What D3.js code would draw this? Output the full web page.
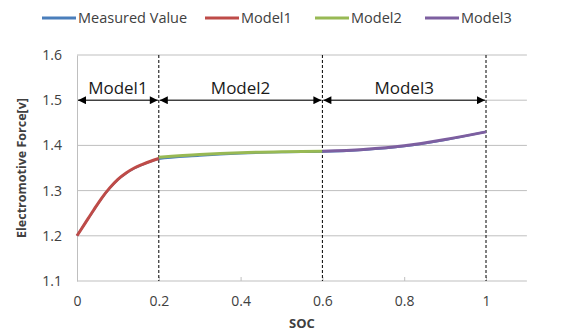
<!DOCTYPE html>
<meta charset="utf-8">
<style>
	body { margin: 0; background: #fff; }
	text { font-family: "Open Sans", Lato, sans-serif; fill: #404040; }
	.grid line { stroke: #bfbfbf; }
</style>

<div class="chart"></div>

<script src="https://d3js.org/d3.v7.min.js"></script>

<script>
	// SOC values and electromotive force readings
	var measuredSoc = [0, 0.02, 0.04, 0.06, 0.08, 0.1, 0.12, 0.14, 0.16, 0.18, 0.2, 0.3, 0.4, 0.5, 0.6, 0.7, 0.8, 0.9, 1.0];
	var measuredEmf = [1.2, 1.228, 1.255, 1.282, 1.305, 1.324, 1.338, 1.349, 1.357, 1.364, 1.370, 1.377, 1.382, 1.385, 1.386, 1.390, 1.398, 1.412, 1.430];

	var model1Soc = [0, 0.02, 0.04, 0.06, 0.08, 0.1, 0.12, 0.14, 0.16, 0.18, 0.2];
	var model1Emf = [1.2, 1.228, 1.256, 1.283, 1.306, 1.325, 1.339, 1.350, 1.358, 1.365, 1.371];

	var model2Soc = [0.2, 0.3, 0.4, 0.5, 0.6];
	var model2Emf = [1.374, 1.380, 1.384, 1.386, 1.387];

	var model3Soc = [0.6, 0.7, 0.8, 0.9, 1.0];
	var model3Emf = [1.387, 1.391, 1.399, 1.413, 1.430];

	var seriesNames = ["Measured Value", "Model1", "Model2", "Model3"];
	var seriesColors = ["#4a7ebb", "#be4b48", "#98b954", "#7d5fa0"];

	var regionBounds = [0, 0.2, 0.6, 1.0];
	var regionLabels = ["Model1", "Model2", "Model3"];

	var xTicks = [0, 0.2, 0.4, 0.6, 0.8, 1];
	var yTicks = [1.1, 1.2, 1.3, 1.4, 1.5, 1.6];

	var width = 565, height = 333;
	var margin = {top: 55, right: 38, bottom: 52, left: 77};

	var svg = d3.select('.chart')
			.append("svg")
			.attr("width", width)
			.attr("height", height);

	var x = d3.scaleLinear()
			.domain([0, 1.1])
			.range([margin.left, margin.left + 409 * 1.1]);

	var y = d3.scaleLinear()
			.domain([1.1, 1.6])
			.range([height - margin.bottom, margin.top]);

	// horizontal gridlines
	svg.append("g").attr("class", "grid")
			.selectAll("line")
			.data(yTicks.slice(1))
			.enter().append("line")
			.attr("x1", x(0)).attr("x2", x(1.1))
			.attr("y1", function(d) { return y(d); })
			.attr("y2", function(d) { return y(d); });

	// axes
	var xAxis = svg.append("g")
			.attr("transform", "translate(0," + y(1.1) + ")")
			.call(d3.axisBottom(x).tickValues(xTicks).tickSize(-4).tickPadding(15)
				.tickFormat(function(d) { return d === 0 || d === 1 ? d : d3.format(".1f")(d); }));
	xAxis.select(".domain").attr("stroke", "#bfbfbf").attr("d", "M" + x(0) + ",0H" + x(1.1));
	xAxis.selectAll(".tick line").attr("stroke", "#bfbfbf");
	xAxis.selectAll("text").style("font-size", "14px").attr("fill", "#404040");

	var yAxis = svg.append("g")
			.attr("transform", "translate(" + x(0) + ",0)")
			.call(d3.axisLeft(y).tickValues(yTicks).tickSize(0).tickPadding(15).tickFormat(d3.format(".1f")));
	yAxis.select(".domain").attr("stroke", "#bfbfbf");
	yAxis.selectAll("text").style("font-size", "14px").attr("fill", "#404040");

	// dashed region boundaries
	svg.append("g")
			.selectAll("line")
			.data(regionBounds.slice(1))
			.enter().append("line")
			.attr("x1", function(d) { return x(d); })
			.attr("x2", function(d) { return x(d); })
			.attr("y1", y(1.6)).attr("y2", y(1.1))
			.attr("stroke", "#000")
			.attr("stroke-width", 1)
			.attr("stroke-dasharray", "3,2");

	// arrows
	var defs = svg.append("defs");
	defs.append("marker").attr("id", "head")
			.attr("viewBox", "0 0 10 10").attr("refX", 10).attr("refY", 5)
			.attr("markerWidth", 9).attr("markerHeight", 8).attr("markerUnits", "userSpaceOnUse")
			.attr("orient", "auto-start-reverse")
			.append("path").attr("d", "M0,0L10,5L0,10Z").attr("fill", "#000");

	var arrows = svg.append("g");
	regionLabels.forEach(function(lbl, i) {
		var a = regionBounds[i], b = regionBounds[i + 1];
		arrows.append("line")
				.attr("x1", x(a) + 1).attr("x2", x(b) - 1)
				.attr("y1", y(1.5)).attr("y2", y(1.5))
				.attr("stroke", "#000").attr("stroke-width", 1)
				.attr("marker-start", "url(#head)")
				.attr("marker-end", "url(#head)");
		arrows.append("text")
				.attr("x", x((a + b) / 2)).attr("y", y(1.5) - 6)
				.attr("text-anchor", "middle")
				.style("font-size", "17px")
				.style("fill", "#1a1a1a")
				.text(lbl);
	});

	// series lines
	var line = d3.line()
			.x(function(d) { return x(d[0]); })
			.y(function(d) { return y(d[1]); })
			.curve(d3.curveMonotoneX);

	var seriesData = [
		d3.zip(measuredSoc, measuredEmf),
		d3.zip(model1Soc, model1Emf),
		d3.zip(model2Soc, model2Emf),
		d3.zip(model3Soc, model3Emf)
	];

	svg.append("g")
			.selectAll("path")
			.data(seriesData)
			.enter().append("path")
			.attr("d", line)
			.attr("fill", "none")
			.attr("stroke", function(d, i) { return seriesColors[i]; })
			.attr("stroke-width", function(d, i) { return i === 0 ? 2 : 3; });

	// legend
	var legendX = [42, 205, 315, 425];
	var legend = svg.append("g")
			.selectAll("g")
			.data(seriesNames)
			.enter().append("g")
			.attr("transform", function(d, i) { return "translate(" + legendX[i] + ",18)"; });
	legend.append("line")
			.attr("x1", 0).attr("x2", 34)
			.attr("stroke", function(d, i) { return seriesColors[i]; })
			.attr("stroke-width", 3);
	legend.append("text")
			.attr("x", 36).attr("dy", "0.35em")
			.style("font-size", "14.5px")
			.text(function(d) { return d; });

	// axis titles
	svg.append("text")
			.attr("x", (x(0) + x(1.1)) / 2).attr("y", 328)
			.attr("text-anchor", "middle")
			.style("font-size", "13px").style("font-weight", "bold")
			.text("SOC");

	svg.append("text")
			.attr("transform", "translate(26," + y(1.35) + ") rotate(-90)")
			.attr("text-anchor", "middle")
			.style("font-size", "12.5px").style("font-weight", "bold")
			.text("Electromotive Force[v]");
</script>
